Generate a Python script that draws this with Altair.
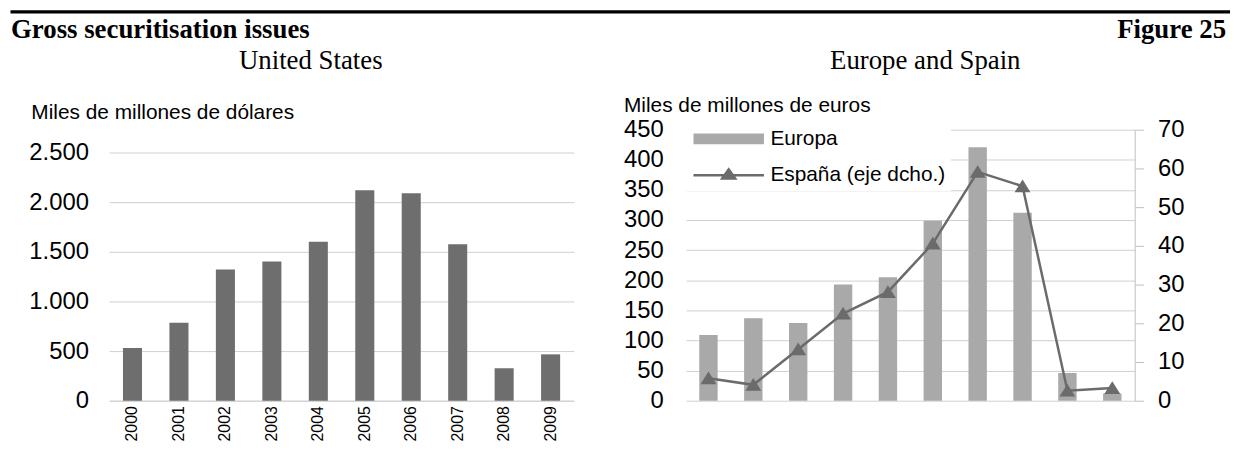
import altair as alt
import pandas as pd

# ---------------- data ----------------
years = ["2000", "2001", "2002", "2003", "2004", "2005", "2006", "2007", "2008", "2009"]
us_values = [532, 785, 1323, 1403, 1602, 2121, 2091, 1577, 327, 467]
europa_values = [109, 137, 129, 193, 205, 299, 421, 312, 46, 12]
espana_values = [5.8, 4.1, 13.3, 22.5, 28.1, 40.6, 59.1, 55.4, 2.6, 3.3]
series_names = ["Europa", "España (eje dcho.)"]

us_ticks = [0, 500, 1000, 1500, 2000, 2500]
eu_ticks = [0, 50, 100, 150, 200, 250, 300, 350, 400, 450]
es_ticks = [0, 10, 20, 30, 40, 50, 60, 70]

main_title = "Gross securitisation issues"
figure_label = "Figure 25"
us_title = "United States"
eu_title = "Europe and Spain"
us_axis_title = "Miles de millones de dólares"
eu_axis_title = "Miles de millones de euros"

# ---------------- styles ----------------
SANS = "Liberation Sans"
SERIF = "Liberation Serif"
GRID = "#d0d0d0"
US_COLOR = "#6e6e6e"
EU_COLOR = "#a9a9a9"
LINE_COLOR = "#6b6b6b"
TRI = "M0,-0.85L1,0.75L-1,0.75Z"
BAR_PATH = "M-1,-0.55H6.1V0.55H-1Z"
LINE_PATH = "M-1,-0.125H6.1V0.125H-1Z M1.65,0.45L2.55,-0.8L3.45,0.45Z"

PLOT_H = 273
US_W = 468
EU_W = 452
SPACING = 113

us_df = pd.DataFrame({"year": years, "value": us_values})
eu_df = pd.DataFrame({"year": years, "europa": europa_values, "espana": espana_values})
legend_df = pd.DataFrame({"serie": series_names})


def text_layer(txt, x, y, size, weight, align, font):
    return alt.Chart(pd.DataFrame({"t": [txt]})).mark_text(
        font=font, fontSize=size, fontWeight=weight, align=align,
        baseline="alphabetic", color="black"
    ).encode(text="t:N", x=alt.value(x), y=alt.value(y))


def year_axis():
    return alt.Axis(title=None, labelAngle=-90, ticks=False, domainColor=GRID,
                    labelPadding=5, labelFontSize=16, labelFont=SANS, labelColor="black")


# ---------------- left panel ----------------
us_bars = alt.Chart(us_df).mark_bar(color=US_COLOR).encode(
    x=alt.X("year:N", sort=years, scale=alt.Scale(paddingInner=0.59, paddingOuter=0.295), axis=year_axis()),
    y=alt.Y("value:Q", scale=alt.Scale(domain=[0, 2730], nice=False),
            axis=alt.Axis(values=us_ticks, grid=True, gridColor=GRID, domain=False, ticks=False,
                          labelPadding=21, labelFontSize=24, labelFont=SANS, labelColor="black",
                          labelExpr="replace(format(datum.value, ','), ',', '.')",
                          title=us_axis_title, titleX=-79, titleY=-11.6, titleAngle=0,
                          titleAlign="left", titleBaseline="alphabetic", titleFontSize=21,
                          titleFontWeight="normal", titleFont=SANS, titleColor="black")),
)

top_rule = alt.Chart(pd.DataFrame({"t": [0]})).mark_rule(color="black", strokeWidth=3.3).encode(
    x=alt.value(-99.5), x2=alt.value(1129), y=alt.value(-118.8)
)

us_chart = alt.layer(
    us_bars,
    top_rule,
    text_layer(main_title, -99, -92.8, 27, "bold", "left", SERIF),
    text_layer(us_title, 203, -61.3, 27, "normal", "center", SERIF),
).properties(width=US_W, height=PLOT_H)

# ---------------- right panel ----------------
eu_x_scale = alt.Scale(paddingInner=0.59, paddingOuter=0.295)

eu_bars = alt.Chart(eu_df).mark_bar(color=EU_COLOR).encode(
    x=alt.X("year:N", sort=years, scale=eu_x_scale, axis=year_axis()),
    y=alt.Y("europa:Q", scale=alt.Scale(domain=[0, 450], nice=False),
            axis=alt.Axis(values=eu_ticks, grid=True, gridColor=GRID, domain=False, ticks=False,
                          labelPadding=23, labelFontSize=24, labelFont=SANS, labelColor="black",
                          title=eu_axis_title, titleX=-63, titleY=-18.3, titleAngle=0,
                          titleAlign="left", titleBaseline="alphabetic", titleFontSize=21,
                          titleFontWeight="normal", titleFont=SANS, titleColor="black")),
)

es_line = alt.Chart(eu_df).mark_line(
    color=LINE_COLOR, strokeWidth=2.5,
    point=alt.OverlayMarkDef(shape=TRI, size=256, filled=True, color=LINE_COLOR),
).encode(
    x=alt.X("year:N", sort=years, scale=eu_x_scale, axis=None),
    y=alt.Y("espana:Q", scale=alt.Scale(domain=[0, 70], nice=False),
            axis=alt.Axis(orient="right", values=es_ticks, grid=False, domainColor="#bfbfbf",
                          tickColor="#bfbfbf", tickSize=9, labelPadding=14, labelFontSize=24,
                          labelFont=SANS, labelColor="black", title=None)),
)

# the legend is placed at the concat level, so its x is measured from the left plot's origin
leg = alt.Legend(title=None, orient="none", legendX=US_W + SPACING, legendY=-6.3, fillColor="white",
                 padding=5, symbolSize=400, symbolStrokeWidth=0, symbolOffset=2,
                 labelOffset=57, rowPadding=14.7, labelFontSize=21, labelFont=SANS,
                 labelColor="black", labelLimit=0, symbolOpacity=1)

legend_layer = alt.Chart(legend_df).transform_filter("false").mark_point(
    filled=True, size=400, opacity=1
).encode(
    color=alt.Color("serie:N", scale=alt.Scale(domain=series_names, range=[EU_COLOR, LINE_COLOR]), legend=leg),
    shape=alt.Shape("serie:N", scale=alt.Scale(domain=series_names, range=[BAR_PATH, LINE_PATH]), legend=leg),
)

eu_chart = alt.layer(
    eu_bars,
    es_line,
    legend_layer,
    text_layer(eu_title, 241, -61.3, 27, "normal", "center", SERIF),
    text_layer(figure_label, 544, -92.8, 27, "bold", "right", SERIF),
).resolve_scale(y="independent").properties(width=EU_W, height=PLOT_H)

chart = alt.hconcat(us_chart, eu_chart, spacing=SPACING, bounds="flush").properties(
    padding=0
).configure_view(stroke="transparent")

chart.save("out.html", embed_options={"renderer": "svg", "actions": False})
